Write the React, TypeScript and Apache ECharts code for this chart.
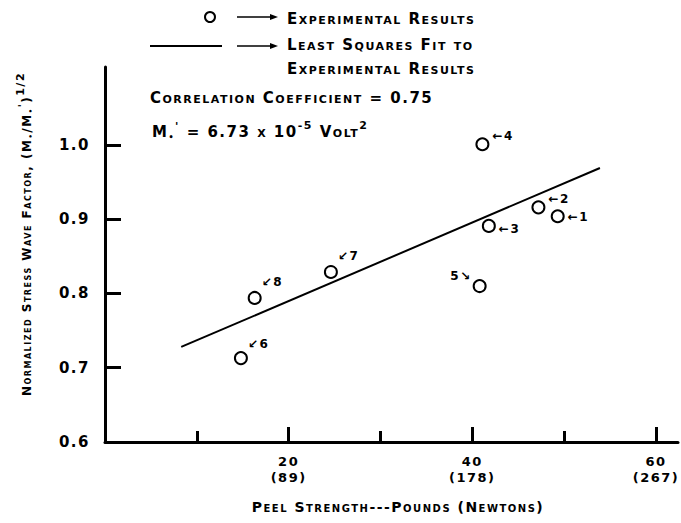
import React, { useEffect, useRef } from 'react';
import * as echarts from 'echarts';

// ---- data ----
const pointIds = ['1', '2', '3', '4', '5', '6', '7', '8'];
const peelStrengthLb = [49.3, 47.2, 41.8, 41.1, 40.8, 14.8, 24.6, 16.3];
const stressWaveFactor = [0.904, 0.916, 0.891, 1.001, 0.81, 0.713, 0.829, 0.794];
const fitLineX = [8.3, 53.9];
const fitLineY = [0.728, 0.969];
const xMajorTicks = [20, 40, 60];
const xMinorTicks = [10, 30, 50];
const xTickPounds = ['20', '40', '60'];
const xTickNewtons = ['(89)', '(178)', '(267)'];
const yTickValues = [0.7, 0.8, 0.9, 1.0];
const yLabelValues = [0.6, 0.7, 0.8, 0.9, 1.0];
const yTickLabels = ['0.6', '0.7', '0.8', '0.9', '1.0'];
const legendPointText = 'Experimental Results';
const legendLineText1 = 'Least Squares Fit to';
const legendLineText2 = 'Experimental Results';
const correlationText = 'Correlation Coefficient = 0.75';
const xAxisTitle = 'Peel Strength---Pounds (Newtons)';

// ---- label styling (not data) ----
const labelSide = ['right', 'right', 'right', 'right', 'left', 'upright', 'upright', 'upright'];
const labelShift = [[0, 1], [0, -8], [0, 3], [0, -8], [2, -10], [-3, -14], [-3, -16], [-3, -16]];

const FAMILY = '"DejaVu Sans", sans-serif';
const LS = 1.5;

let measureCtx: CanvasRenderingContext2D | null = null;
function measure(text: string, size: number): number {
  if (!measureCtx) measureCtx = document.createElement('canvas').getContext('2d');
  const c: any = measureCtx;
  c.font = `small-caps bold ${size}px "DejaVu Sans"`;
  try { c.letterSpacing = LS + 'px'; } catch (e) {}
  return c.measureText(text).width;
}

function txt(text: string, x: number, y: number, size: number, align = 'left') {
  return {
    type: 'text',
    x, y,
    style: {
      text, fill: '#000', fontSize: size, fontWeight: 'bold', fontFamily: FAMILY,
      align, textAlign: align, verticalAlign: 'middle', textVerticalAlign: 'middle',
    },
  };
}

type Piece = { t: string; size: number; dy?: number };
function run(pieces: Piece[], x0: number, y0: number) {
  let x = x0;
  const out: any[] = [];
  pieces.forEach((p) => {
    out.push(txt(p.t, x, y0 + (p.dy || 0), p.size));
    x += measure(p.t, p.size);
  });
  return { els: out, width: x - x0 };
}

function arrow(x1: number, x2: number, y: number) {
  return [
    { type: 'line', shape: { x1, y1: y, x2: x2 - 6, y2: y }, style: { stroke: '#000', lineWidth: 1.5 } },
    { type: 'polygon', shape: { points: [[x2 - 8, y - 3], [x2, y], [x2 - 8, y + 3]] }, style: { fill: '#000' } },
  ];
}

export default function App() {
  const ref = useRef<HTMLDivElement>(null);
  useEffect(() => {
    if (!ref.current) return;
    const chart = echarts.init(ref.current, undefined, { renderer: 'svg' });

    const scatterData = pointIds.map((id, i) => {
      const side = labelSide[i];
      const text = side === 'right' ? `←${id}` : side === 'left' ? `${id}↘` : `↙${id}`;
      return {
        value: [peelStrengthLb[i], stressWaveFactor[i]],
        label: {
          show: true,
          formatter: text,
          position: side === 'left' ? 'left' : 'right',
          distance: 3,
          offset: labelShift[i],
        },
      };
    });

    const formula = run(
      [
        { t: 'M', size: 15 },
        { t: '•', size: 8, dy: 5 },
        { t: "'", size: 11, dy: -6 },
        { t: ' = 6.73 x 10', size: 15 },
        { t: '-5', size: 11, dy: -7 },
        { t: ' Volt', size: 15 },
        { t: '2', size: 11, dy: -7 },
      ],
      152,
      132
    );

    const yName = run(
      [
        { t: 'Normalized Stress Wave Factor, (M', size: 12 },
        { t: '•', size: 7, dy: 4 },
        { t: '/M', size: 12 },
        { t: '•', size: 7, dy: 4 },
        { t: "'", size: 10, dy: -5 },
        { t: ')', size: 12 },
        { t: '1/2', size: 11, dy: -7 },
      ],
      0,
      0
    );
    yName.els.forEach((e: any) => (e.x -= yName.width / 2));

    const graphic: any[] = [
      { type: 'circle', shape: { cx: 210, cy: 17, r: 5 }, style: { fill: '#fff', stroke: '#000', lineWidth: 2 } },
      ...arrow(237, 278, 17),
      txt(legendPointText, 287, 19, 15),
      { type: 'line', shape: { x1: 150, y1: 46, x2: 222, y2: 46 }, style: { stroke: '#000', lineWidth: 2 } },
      ...arrow(237, 278, 46),
      txt(legendLineText1, 287, 45, 15),
      txt(legendLineText2, 287, 69, 15),
      txt(correlationText, 150, 98, 15),
      ...formula.els,
      txt(xAxisTitle, 398, 507, 14, 'center'),
      { type: 'group', x: 27, y: 234, rotation: Math.PI / 2, children: yName.els },
    ];

    const axisLineStyle = { color: '#000', width: 3 };
    chart.setOption({
      animation: false,
      backgroundColor: '#fff',
      grid: { left: 105, right: 3, top: 67, bottom: 81 },
      xAxis: [
        {
          type: 'value', min: 0, max: 62.4, position: 'bottom',
          axisLine: { show: true, lineStyle: axisLineStyle },
          axisTick: { show: true, inside: true, length: 15, customValues: xMajorTicks, lineStyle: { color: '#000', width: 3 } },
          axisLabel: {
            show: true, customValues: xMajorTicks, margin: 11,
            fontSize: 13, fontWeight: 'bold', fontFamily: FAMILY, color: '#000', lineHeight: 16,
            formatter: (v: number) => {
              const i = xMajorTicks.indexOf(Math.round(v));
              return i >= 0 ? `${xTickPounds[i]}\n${xTickNewtons[i]}` : '';
            },
          },
          splitLine: { show: false },
        },
        {
          type: 'value', min: 0, max: 62.4, position: 'bottom',
          axisLine: { show: false },
          axisTick: { show: true, inside: true, length: 11, customValues: xMinorTicks, lineStyle: { color: '#000', width: 3 } },
          axisLabel: { show: false },
          splitLine: { show: false },
        },
      ],
      yAxis: {
        type: 'value', min: 0.6, max: 1.105,
        axisLine: { show: true, lineStyle: axisLineStyle },
        axisTick: { show: true, inside: true, length: 16, customValues: yTickValues, lineStyle: { color: '#000', width: 3 } },
        axisLabel: {
          show: true, customValues: yLabelValues, margin: 15,
          fontSize: 15, fontWeight: 'bold', fontFamily: FAMILY, color: '#000',
          formatter: (v: number) => {
            const i = yLabelValues.findIndex((y) => Math.abs(y - v) < 1e-6);
            return i >= 0 ? yTickLabels[i] : '';
          },
        },
        splitLine: { show: false },
      },
      graphic,
      series: [
        {
          type: 'line',
          data: fitLineX.map((x, i) => [x, fitLineY[i]]),
          symbol: 'none',
          lineStyle: { color: '#000', width: 2 },
          z: 2,
        },
        {
          type: 'scatter',
          data: scatterData,
          symbol: 'circle',
          symbolSize: 12,
          itemStyle: { color: '#fff', borderColor: '#000', borderWidth: 2, opacity: 1 },
          label: { color: '#000', fontSize: 12, fontWeight: 'bold', fontFamily: FAMILY },
          z: 3,
        },
      ],
    });
    return () => chart.dispose();
  }, []);

  return (
    <>
      <style>{`svg text { font-variant: small-caps !important; letter-spacing: ${LS}px !important; }`}</style>
      <div
        ref={ref}
        style={{ position: 'fixed', left: 0, top: 0, width: 681, height: 523, background: '#fff' }}
      />
    </>
  );
}
